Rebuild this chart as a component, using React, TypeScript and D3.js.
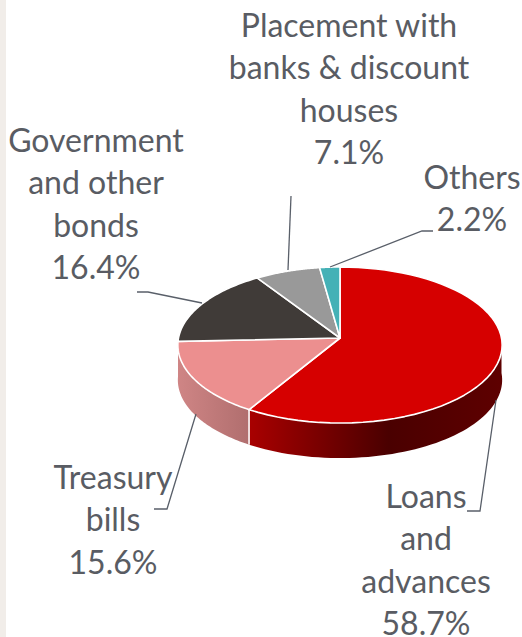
import React from "react";
import * as d3 from "d3";

const categories = ["Loans and advances", "Treasury bills", "Government and other bonds", "Placement with banks & discount houses", "Others"];
const shares = [58.7, 15.6, 16.4, 7.1, 2.2];
const topColors = ["#d60000", "#ec8f8f", "#403b38", "#999999", "#45b1b6"];
const labelLines = [
  ["Loans", "and", "advances", "58.7%"],
  ["Treasury", "bills", "15.6%"],
  ["Government", "and other", "bonds", "16.4%"],
  ["Placement with", "banks & discount", "houses", "7.1%"],
  ["Others", "2.2%"],
];
const labelCenters = [426, 113, 96, 349, 472];
const labelBaselines = [508, 489, 152, 37, 189];
const leaders: [number, number][][] = [
  [[467, 511], [480, 511], [496, 400]],
  [[154, 509], [167, 509], [196, 414]],
  [[137, 292], [148, 292], [202, 303]],
  [[291, 196], [288, 270]],
  [[433, 231], [422, 231], [330, 267]],
];

const W = 522, H = 637;
const cx = 340, cy = 338, rx = 161.5, ry = 77.4, k = 0.09, depth = 35;

function project(a: number, r = 1): [number, number] {
  const u = Math.sin(a) * r, v = -Math.cos(a) * r;
  const d = 1 - k * v;
  return [cx + (rx * u) / d, cy + (ry * v) / d];
}
function rimAngles(a0: number, a1: number) {
  return d3.range(0, 61).map((i) => a0 + ((a1 - a0) * i) / 60);
}
const line = d3.line();

export default function App() {
  const pie = d3.pie<number>().sort(null).startAngle(0).endAngle(2 * Math.PI);
  const arcs = pie(shares);
  const wall = (a0: number, a1: number) => {
    const top = rimAngles(a0, a1).map((a) => project(a));
    const bottom = top.map(([x, y]) => [x, y + depth] as [number, number]).reverse();
    return line([...top, ...bottom])! + "Z";
  };
  const start = Math.PI / 2;
  const a0 = arcs[0];
  const a1 = arcs[1];
  return (
    <svg width={W} height={H} style={{ position: "fixed", left: 0, top: 0, background: "#fff" }}>
      <defs>
        <linearGradient id="wallRed" gradientUnits="userSpaceOnUse" x1={250} x2={502} y1={0} y2={0}>
          <stop offset="0" stopColor="#a80000" />
          <stop offset="0.55" stopColor="#4a0000" />
          <stop offset="1" stopColor="#5e0000" />
        </linearGradient>
        <linearGradient id="wallPink" gradientUnits="userSpaceOnUse" x1={178} x2={250} y1={0} y2={0}>
          <stop offset="0" stopColor="#cf8585" />
          <stop offset="1" stopColor="#b06e6e" />
        </linearGradient>
      </defs>
      <rect x={0} y={0} width={6} height={H} fill="#f1ede9" />
      <path d={wall(start, a0.endAngle)} fill="url(#wallRed)" />
      <path d={wall(a1.startAngle, Math.min(a1.endAngle, (3 * Math.PI) / 2))} fill="url(#wallPink)" />
      <path d={line([project(a0.endAngle), [project(a0.endAngle)[0], project(a0.endAngle)[1] + depth]])!} stroke="#fff" strokeWidth={1.6} />
      {arcs.map((d, i) => (
        <path
          key={categories[i]}
          d={line([[cx, cy], ...rimAngles(d.startAngle, d.endAngle).map((a) => project(a))])! + "Z"}
          fill={topColors[i]}
          stroke="#fff"
          strokeWidth={1.6}
          strokeLinejoin="round"
        />
      ))}
      {leaders.map((pts, i) => (
        <path key={i} d={line(pts)!} fill="none" stroke="#595f69" strokeWidth={1.3} />
      ))}
      {labelLines.map((lines, i) => (
        <text key={i} textAnchor="middle" fontFamily="Lato" fontSize={32} fill="#595c63">
          {lines.map((t, j) => (
            <tspan key={j} x={labelCenters[i]} y={labelBaselines[i] + j * 42.3}>{t}</tspan>
          ))}
        </text>
      ))}
    </svg>
  );
}
